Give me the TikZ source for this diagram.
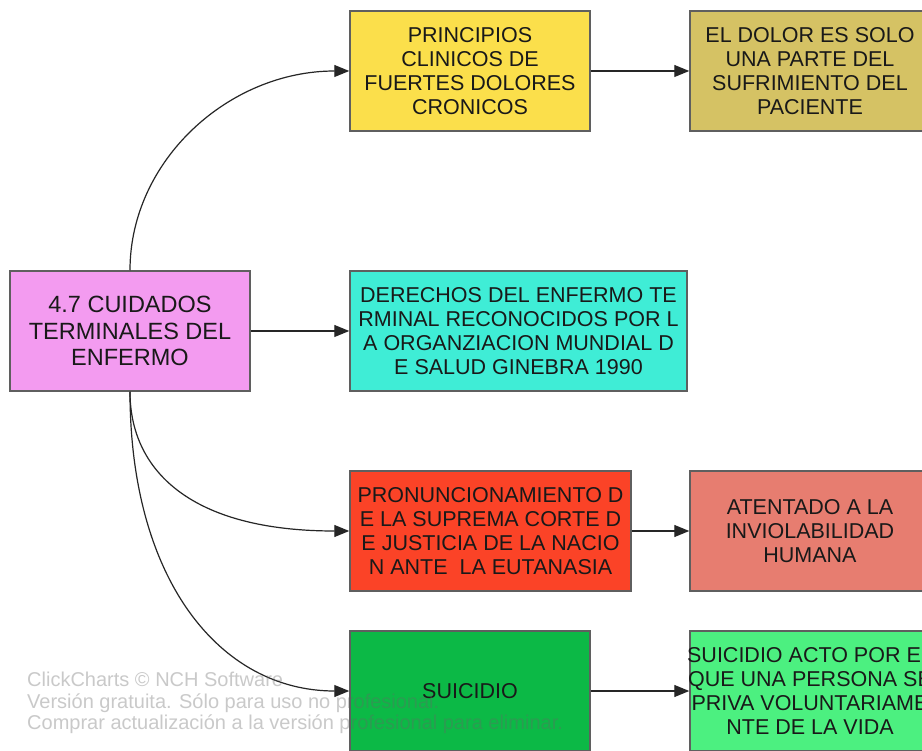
\documentclass[tikz,border=0pt]{standalone}
\usepackage{fontspec}
\setmainfont{Liberation Sans}
\usetikzlibrary{arrows.meta}
\definecolor{boxline}{HTML}{5F5F5F}
\definecolor{cpink}{HTML}{F39BF0}
\definecolor{cyellow}{HTML}{FBDF4B}
\definecolor{colive}{HTML}{D5C264}
\definecolor{ccyan}{HTML}{3FEDD6}
\definecolor{cred}{HTML}{FB4327}
\definecolor{csalmon}{HTML}{E77D70}
\definecolor{cgreen}{HTML}{0CB946}
\definecolor{clgreen}{HTML}{4CF080}
\tikzset{
  box/.style={draw=boxline, line width=1.5pt, minimum height=120pt, inner sep=0pt,
    align=center, text=black!90, font=\fontsize{21.5}{24}\selectfont},
  arr/.style={line width=1.2pt, draw=black!85, -{Triangle[length=15pt,width=12pt]}},
  wmark/.style={anchor=north west, align=left, inner sep=0pt, text=black!60,
    text opacity=0.35, font=\fontsize{20}{21.5}\selectfont}
}
\begin{document}
\begin{tikzpicture}[x=1pt,y=-1pt]
\useasboundingbox (0,0) rectangle (922,751);
\clip (0,0) rectangle (922,751);
\fill[white] (0,0) rectangle (922,751);

\node[box, fill=cpink, minimum width=240pt, font=\fontsize{23.5}{26.5}\selectfont] (root) at (130,331)
  {4.7 CUIDADOS\\TERMINALES DEL\\ENFERMO};
\node[box, fill=cyellow, minimum width=240pt] (yel) at (470,71)
  {PRINCIPIOS\\CLINICOS DE\\FUERTES DOLORES\\CRONICOS};
\node[box, fill=colive, minimum width=240pt] (oli) at (810,71)
  {EL DOLOR ES SOLO\\UNA PARTE DEL\\SUFRIMIENTO DEL\\PACIENTE};
\node[box, fill=ccyan, minimum width=337pt] (cya) at (518.5,331)
  {DERECHOS DEL ENFERMO TE\\RMINAL RECONOCIDOS POR L\\A ORGANZIACION MUNDIAL D\\E SALUD GINEBRA 1990};
\node[box, fill=cred, minimum width=281pt] (red) at (490.5,531)
  {PRONUNCIONAMIENTO D\\E LA SUPREMA CORTE D\\E JUSTICIA DE LA NACIO\\N ANTE\ \ LA EUTANASIA};
\node[box, fill=csalmon, minimum width=240pt] (sal) at (810,531)
  {ATENTADO A LA\\INVIOLABILIDAD\\HUMANA};
\node[box, fill=cgreen, minimum width=240pt] (gre) at (470,691)
  {SUICIDIO};
\node[box, fill=clgreen, minimum width=240pt, inner xsep=-12pt] (lgr) at (810,691)
  {SUICIDIO ACTO POR EL\\QUE UNA PERSONA SE\\PRIVA VOLUNTARIAME\\NTE DE LA VIDA};

\draw[arr] (root.north) .. controls (130,160.6) and (228.6,71) .. (yel.west);
\draw[arr] (root.east) -- (cya.west);
\draw[arr] (root.south) .. controls (130,470) and (190,531) .. (red.west);
\draw[arr] (root.south) .. controls (130,580) and (220,691) .. (gre.west);
\draw[arr] (yel.east) -- (oli.west);
\draw[arr] (red.east) -- (sal.west);
\draw[arr] (gre.east) -- (lgr.west);

\node[wmark] (wm) at (27,672) {ClickCharts © NCH Software\\Versión gratuita. Sólo para uso no profesional.\\Comprar actualización a la versión profesional para eliminar.};
\end{tikzpicture}
\end{document}
